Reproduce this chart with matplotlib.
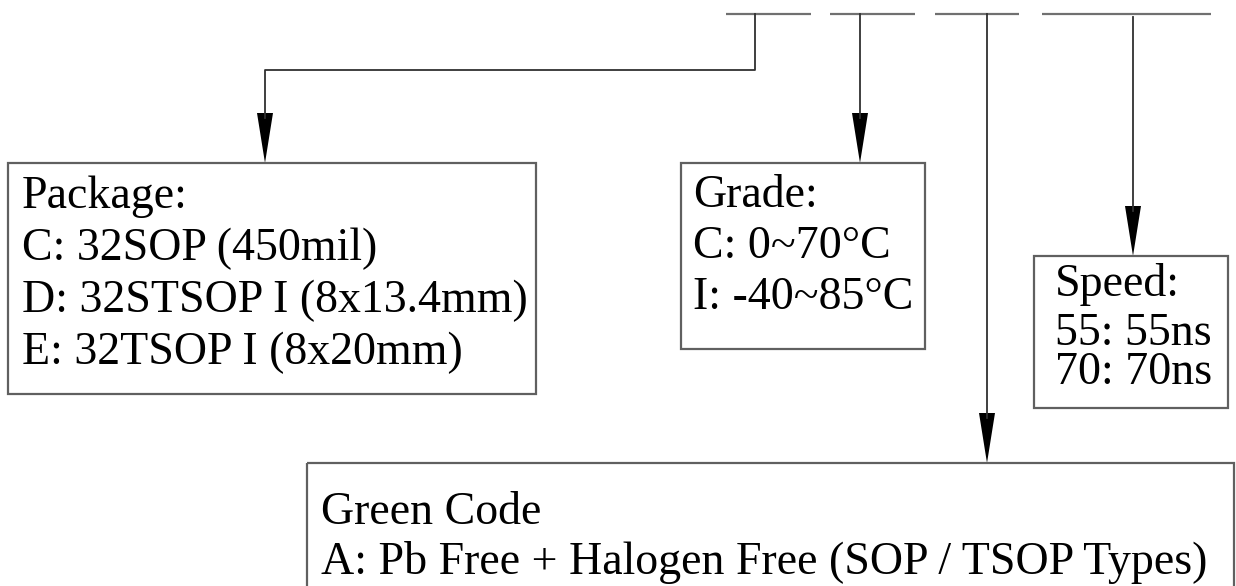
import matplotlib
matplotlib.use("Agg")
from matplotlib import pyplot as plt
from matplotlib.patches import Rectangle, Polygon

# part number field underlines (x start, x end) at the top
fields = [(726, 811), (830, 915), (935, 1019), (1042, 1211)]
field_y = 14

# boxes: (left, top, right, bottom)
box_names = ["package", "grade", "speed", "green"]
boxes = {
    "package": (8, 163, 536, 394),
    "grade": (681, 163, 925, 349),
    "speed": (1034, 256, 1228, 408),
    "green": (307, 463, 1234, 590),
}

# text lines of each box (text, y centre)
texts = {
    "package": [("Package:", 197), ("C: 32SOP (450mil)", 249),
                ("D: 32STSOP I (8x13.4mm)", 301), ("E: 32TSOP I (8x20mm)", 353)],
    "grade": [("Grade:", 196), ("C: 0~70°C", 247), ("I: -40~85°C", 298)],
    "speed": [("Speed:", 284), ("55: 55ns", 334), ("70: 70ns", 373)],
    "green": [("Green Code", 513), ("A: Pb Free + Halogen Free (SOP / TSOP Types)", 562)],
}
text_x = {"package": 22, "grade": 693, "speed": 1055, "green": 321}

# connectors: list of polyline points, last point is the arrow tip
connectors = [
    [(755, 14), (755, 70), (265, 70), (265, 163)],
    [(860, 14), (860, 163)],
    [(987, 14), (987, 463)],
    [(1133, 17), (1133, 256)],
]
head_len = 50
head_w = 8

fig = plt.figure(figsize=(12.36, 5.86), dpi=100)
ax = fig.add_axes([0, 0, 1, 1])
ax.set_xlim(0, 1236)
ax.set_ylim(586, 0)
ax.axis("off")

for x0, x1 in fields:
    ax.plot([x0, x1], [field_y, field_y], color="#707070", lw=1.6, solid_capstyle="butt")

for pts in connectors:
    xs = [p[0] for p in pts]
    ys = [p[1] for p in pts]
    tx, ty = pts[-1]
    ys[-1] = ty - head_len + 5
    ax.plot(xs, ys, color="#303030", lw=1.3)
    ax.add_patch(Polygon([(tx - head_w, ty - head_len), (tx + head_w, ty - head_len), (tx, ty)],
                         closed=True, color="black", lw=0))

for name in box_names:
    l, t, r, b = boxes[name]
    ax.add_patch(Rectangle((l, t), r - l, b - t, fill=False, ec="#606060", lw=1.6))
    for s, y in texts[name]:
        ax.text(text_x[name], y, s, fontsize=33, family="Liberation Serif",
                va="center", ha="left", color="black")

plt.savefig("out.png", dpi=100)
